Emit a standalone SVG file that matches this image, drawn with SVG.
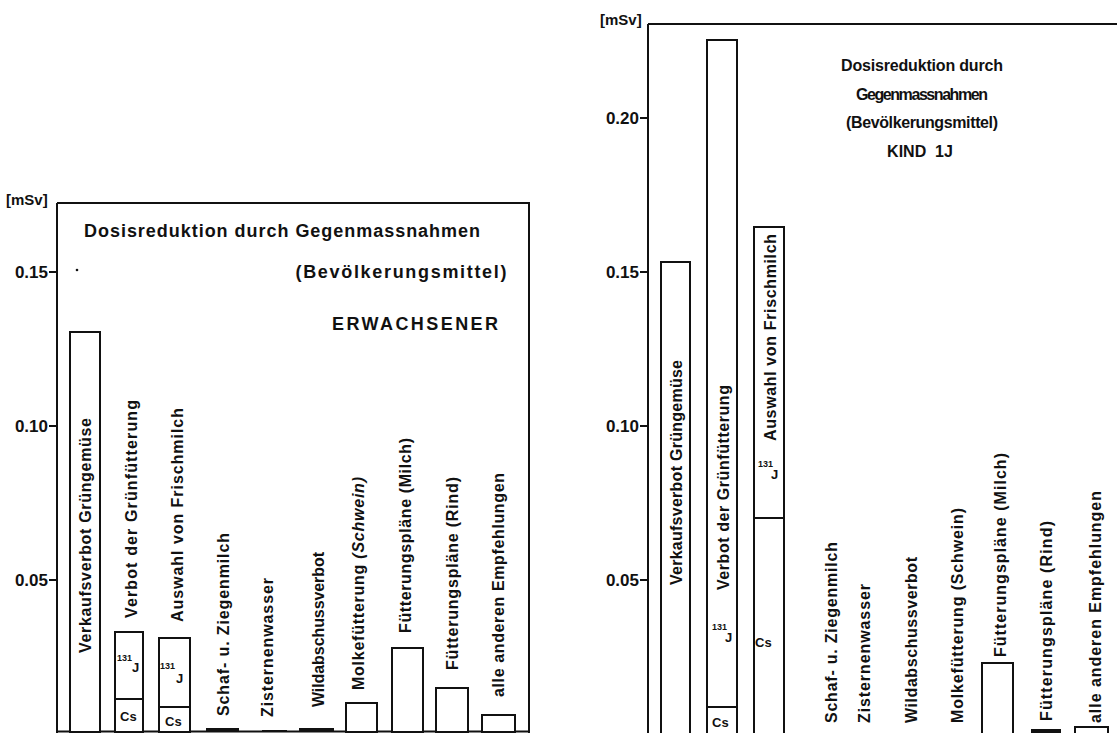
<svg xmlns="http://www.w3.org/2000/svg" width="1117" height="733" viewBox="0 0 1117 733">
<style>
.ln{stroke:#111;stroke-width:2;fill:none}
.bar{stroke:#111;stroke-width:2;fill:#fff}
.thin{fill:#111}
text{font-family:"Liberation Sans",Arial,sans-serif;font-weight:bold;fill:#111}
.tk{font-size:17px;text-anchor:end}
.lab{font-size:16px}
.ttl{font-size:18px;text-anchor:middle}
.ttr{font-size:16px;text-anchor:middle}
.sm{font-size:13px}
.sup{font-size:9px}
.unit{font-size:15px}
</style>
<rect width="1117" height="733" fill="#fff"/>

<g id="left-axes">
<path class="ln" d="M57,203 V733 M57,203 H529 V733 M57,731.5 H529"/>
<path class="ln" d="M49,272 H57 M49,426 H57 M49,580 H57"/>
<text class="tk" x="48" y="278">0.15</text>
<text class="tk" x="48" y="432">0.10</text>
<text class="tk" x="48" y="586">0.05</text>
<text class="unit" x="6" y="205">[mSv]</text>
<circle cx="77" cy="270" r="1.3" fill="#111"/>
</g>
<g id="left-title">
<text class="ttl" x="282" y="237" textLength="396">Dosisreduktion durch Gegenmassnahmen</text>
<text class="ttl" x="401" y="278" textLength="211">(Bevölkerungsmittel)</text>
<text class="ttl" x="415" y="330" textLength="166">ERWACHSENER</text>
</g>

<g id="left-bar1"><rect class="bar" x="70" y="332" width="30" height="400"/>
<text class="lab" transform="translate(91,653) rotate(-90)" textLength="235">Verkaufsverbot Grüngemüse</text></g>
<g id="left-bar2"><rect class="bar" x="115" y="632" width="28" height="100"/><path class="ln" d="M115,699 H143"/>
<text class="sup" x="117" y="661">131</text><text class="sm" x="132" y="672">J</text><text class="sm" x="120" y="721">Cs</text>
<text class="lab" transform="translate(137,618) rotate(-90)" textLength="218">Verbot der Grünfütterung</text></g>
<g id="left-bar3"><rect class="bar" x="159" y="638" width="31" height="94"/><path class="ln" d="M159,707 H190"/>
<text class="sup" x="160" y="669">131</text><text class="sm" x="176" y="683">J</text><text class="sm" x="165" y="726">Cs</text>
<text class="lab" transform="translate(183,622) rotate(-90)" textLength="214">Auswahl von Frischmilch</text></g>
<g id="left-bar4"><rect class="thin" x="206" y="728" width="33" height="4"/>
<text class="lab" transform="translate(229,716) rotate(-90)" textLength="183">Schaf- u. Ziegenmilch</text></g>
<g id="left-bar5"><rect class="thin" x="262" y="730" width="25" height="2"/>
<text class="lab" transform="translate(273,717) rotate(-90)" textLength="139">Zisternenwasser</text></g>
<g id="left-bar6"><rect class="thin" x="299" y="728" width="35" height="4"/>
<text class="lab" transform="translate(324,707) rotate(-90)" textLength="155">Wildabschussverbot</text></g>
<g id="left-bar7"><rect class="bar" x="346" y="703" width="31" height="29"/>
<text class="lab" transform="translate(364,690) rotate(-90)" textLength="213">Molkefütterung <tspan font-style="italic">(Schwein)</tspan></text></g>
<g id="left-bar8"><rect class="bar" x="392" y="648" width="31" height="84"/>
<text class="lab" transform="translate(411,633) rotate(-90)" textLength="195">Fütterungspläne (Milch)</text></g>
<g id="left-bar9"><rect class="bar" x="436" y="688" width="32" height="44"/>
<text class="lab" transform="translate(458,670) rotate(-90)" textLength="193">Fütterungspläne (Rind)</text></g>
<g id="left-bar10"><rect class="bar" x="482" y="715" width="33" height="17"/>
<text class="lab" transform="translate(504,697) rotate(-90)" textLength="224">alle anderen Empfehlungen</text></g>

<g id="right-axes">
<path class="ln" d="M648,24 V733 M648,24 H1117"/>
<path class="ln" d="M640,118 H648 M640,272 H648 M640,426 H648 M640,580 H648"/>
<text class="tk" x="639" y="124">0.20</text>
<text class="tk" x="639" y="278">0.15</text>
<text class="tk" x="639" y="432">0.10</text>
<text class="tk" x="639" y="586">0.05</text>
<text class="unit" x="600" y="25">[mSv]</text>
</g>
<g id="right-title">
<text class="ttr" x="922" y="71" textLength="162">Dosisreduktion durch</text>
<text class="ttr" x="922" y="100" textLength="132">Gegenmassnahmen</text>
<text class="ttr" x="922" y="128" textLength="152">(Bevölkerungsmittel)</text>
<text class="ttr" x="920" y="157" xml:space="preserve">KIND  1J</text>
</g>

<g id="right-bar1"><rect class="bar" x="661" y="262" width="29" height="472"/>
<text class="lab" transform="translate(682,585) rotate(-90)" textLength="225">Verkaufsverbot Grüngemüse</text></g>
<g id="right-bar2"><rect class="bar" x="707" y="40" width="30" height="694"/><path class="ln" d="M707,707 H737"/>
<text class="sup" x="712" y="630">131</text><text class="sm" x="725" y="642">J</text><text class="sm" x="712" y="727">Cs</text>
<text class="lab" transform="translate(729,590) rotate(-90)" textLength="205">Verbot der Grünfütterung</text></g>
<g id="right-bar3"><rect class="bar" x="754" y="227" width="30" height="507"/><path class="ln" d="M754,518 H784"/>
<text class="sup" x="758" y="467">131</text><text class="sm" x="771" y="479">J</text><text class="sm" x="755" y="647">Cs</text>
<text class="lab" transform="translate(776,441) rotate(-90)" textLength="207">Auswahl von Frischmilch</text></g>
<g id="right-bar4"><text class="lab" transform="translate(837,723) rotate(-90)" textLength="181">Schaf- u. Ziegenmilch</text></g>
<g id="right-bar5"><text class="lab" transform="translate(870,723) rotate(-90)" textLength="139">Zisternenwasser</text></g>
<g id="right-bar6"><text class="lab" transform="translate(917,723) rotate(-90)" textLength="166">Wildabschussverbot</text></g>
<g id="right-bar7"><text class="lab" transform="translate(963,723) rotate(-90)" textLength="215">Molkefütterung (Schwein)</text></g>
<g id="right-bar8"><rect class="bar" x="982" y="663" width="31" height="71"/>
<text class="lab" transform="translate(1006,657) rotate(-90)" textLength="204">Fütterungspläne (Milch)</text></g>
<g id="right-bar9"><rect class="thin" x="1031" y="729" width="30" height="4"/>
<text class="lab" transform="translate(1052,721) rotate(-90)" textLength="200">Fütterungspläne (Rind)</text></g>
<g id="right-bar10"><rect class="bar" x="1075" y="727" width="33" height="8"/>
<text class="lab" transform="translate(1101,723) rotate(-90)" textLength="232">alle anderen Empfehlungen</text></g>
</svg>
